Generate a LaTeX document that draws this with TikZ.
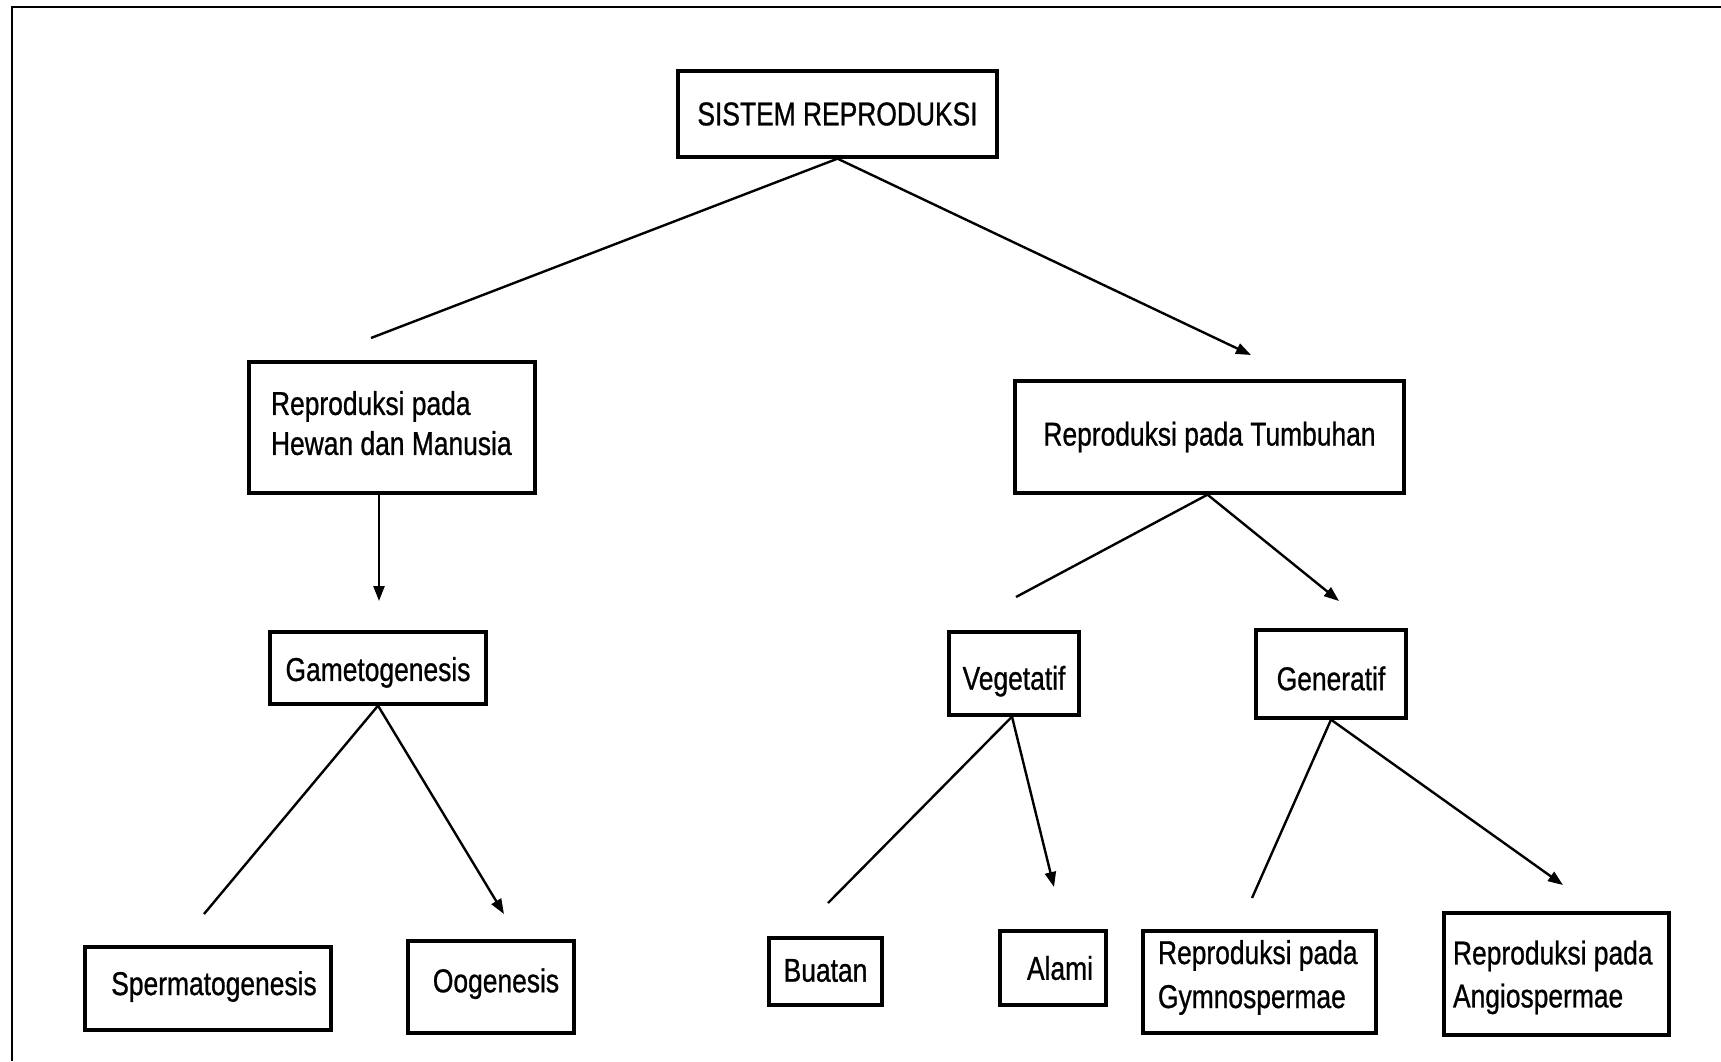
\documentclass[tikz,border=0pt]{standalone}
\usepackage{fontspec}
\setmainfont{Liberation Sans}[FakeStretch=0.8,FakeBold=0.8]
\usetikzlibrary{arrows.meta}
\newcommand{\lefttext}[3]{\makebox[#1][l]{\hspace*{#2}\begin{tabular}{@{}l@{}}#3\end{tabular}}}
\newcommand{\vmove}[2]{\raisebox{#1}[\height][\depth]{#2}}
\begin{document}
\begin{tikzpicture}[x=1pt,y=-1pt,
  box/.style={draw,line width=3.3pt,inner sep=0pt,font=\fontsize{33}{42}\selectfont},
  link/.style={line width=2.4pt},
  arr/.style={link,-{Triangle[length=15pt,width=11pt]}},
  frame/.style={line width=2.5pt}]
\useasboundingbox (0,0) rectangle (1721,1061);
\draw[frame] (12,1061) -- (12,7) -- (1721,7);

\node[box,minimum width=319pt,minimum height=86pt] (top) at (837.5,114) {SISTEM REPRODUKSI};
\node[box,minimum width=286pt,minimum height=131pt] (hewan) at (392,427.5) {\vmove{1pt}{\lefttext{286pt}{22pt}{Reproduksi pada\\[-2pt]Hewan dan Manusia}}};
\node[box,minimum width=389pt,minimum height=112pt] (tumb) at (1209.5,437) {Reproduksi pada Tumbuhan};
\node[box,minimum width=216pt,minimum height=72pt] (gamet) at (378,668) {\vmove{-4.4pt}{Gametogenesis}};
\node[box,minimum width=130pt,minimum height=83pt] (veg) at (1014,673.5) {\vmove{-7.7pt}{Vegetatif}};
\node[box,minimum width=150pt,minimum height=88pt] (gen) at (1331,674) {\vmove{-4.4pt}{Generatif}};
\node[box,minimum width=246pt,minimum height=83pt] (sperm) at (208,988.5) {\vmove{2pt}{\hspace*{12pt}Spermatogenesis}};
\node[box,minimum width=166pt,minimum height=92pt] (oog) at (491,987) {\vmove{3.3pt}{\hspace*{10pt}Oogenesis}};
\node[box,minimum width=113pt,minimum height=67pt] (buat) at (825.5,971.5) {\vmove{1pt}{Buatan}};
\node[box,minimum width=106pt,minimum height=74pt] (alam) at (1053,968) {\hspace*{14pt}Alami};
\node[box,minimum width=233pt,minimum height=102pt] (gymno) at (1259.5,982) {\vmove{4.4pt}{\lefttext{233pt}{15pt}{Reproduksi pada\\[2pt]Gymnospermae}}};
\node[box,minimum width=225pt,minimum height=122pt] (angio) at (1556.5,974) {\vmove{-3.5pt}{\lefttext{225pt}{9pt}{Reproduksi pada\\[1pt]Angiospermae}}};

\coordinate (e1) at (371,338);
\coordinate (e2) at (1251,355);
\coordinate (e3) at (379,601);
\coordinate (e4) at (1016,597);
\coordinate (e5) at (1339,601);
\coordinate (e6) at (204,914);
\coordinate (e7) at (504,914);
\coordinate (e8) at (828,903);
\coordinate (e9) at (1054,887);
\coordinate (e10) at (1252,898);
\coordinate (e11) at (1563,885);

\draw[link] (top.south) -- (e1);
\draw[arr] (top.south) -- (e2);
\draw[arr] ([xshift=-13pt]hewan.south) -- (e3);
\draw[link] ([xshift=-2pt]tumb.south) -- (e4);
\draw[arr] ([xshift=-2pt]tumb.south) -- (e5);
\draw[link] (gamet.south) -- (e6);
\draw[arr] (gamet.south) -- (e7);
\draw[link] ([xshift=-2pt]veg.south) -- (e8);
\draw[arr] ([xshift=-2pt]veg.south) -- (e9);
\draw[link] (gen.south) -- (e10);
\draw[arr] (gen.south) -- (e11);
\end{tikzpicture}
\end{document}
